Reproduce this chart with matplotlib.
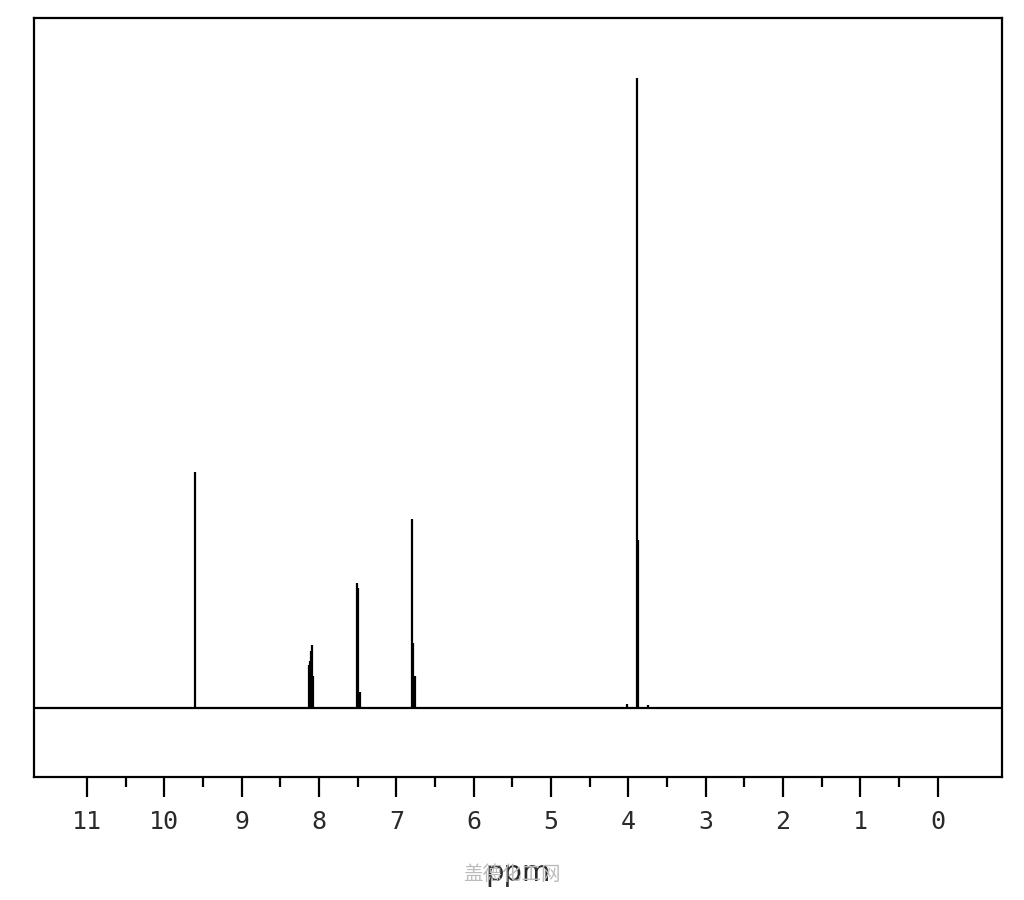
import numpy as np
import matplotlib.pyplot as plt
from matplotlib.ticker import FixedLocator

# peak positions (ppm) and relative intensities
peak_ppm = [9.605, 8.135, 8.12, 8.105, 8.09, 8.075, 7.505, 7.49, 7.475,
            6.795, 6.78, 6.765, 4.02, 3.895, 3.88, 3.75]
peak_int = [0.375, 0.068, 0.075, 0.090, 0.100, 0.050, 0.198, 0.190, 0.025,
            0.300, 0.103, 0.050, 0.006, 1.0, 0.267, 0.005]

xticks = list(range(0, 12))
minor_ticks = [t + 0.5 for t in range(0, 11)]

fig = plt.figure(figsize=(10.24, 9), dpi=100)
ax = fig.add_axes([0.0332, 0.1367, 0.9453, 0.8433])

ax.axhline(0, color='black', lw=1.6)
ax.vlines(peak_ppm, 0, peak_int, colors='black', lw=1.6)

ax.set_xlim(11.685, -0.83)
ax.set_ylim(-0.1095, 1.0953)

ax.set_xticks(xticks)
ax.xaxis.set_minor_locator(FixedLocator(minor_ticks))
ax.set_xticklabels([str(t) for t in xticks], family='DejaVu Sans Mono', fontsize=18, color='#2a2a2a')
ax.tick_params(axis='x', which='major', direction='out', length=14.5, width=1.6, pad=9)
ax.tick_params(axis='x', which='minor', direction='out', length=7.5, width=1.6)
ax.set_yticks([])
for s in ax.spines.values():
    s.set_linewidth(1.6)

ax.set_xlabel('ppm', family='DejaVu Sans', fontsize=21, color='#2a2a2a', labelpad=18)

# watermark
fig.text(0.5, 0.028, '盖德化工网', family=['Noto Sans CJK SC', 'DejaVu Sans'],
         fontsize=14, color='#bbbbbb', ha='center', va='center', zorder=0)

fig.savefig('out.png', dpi=100)
